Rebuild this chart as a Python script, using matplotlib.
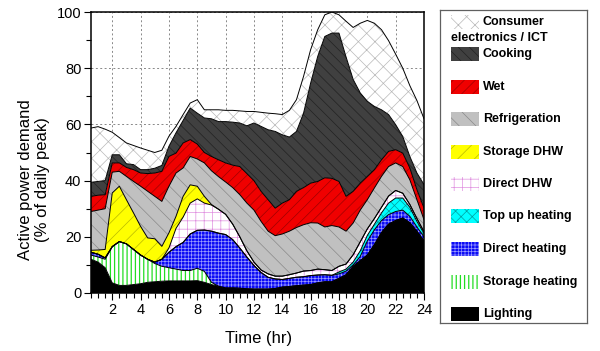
import numpy as np
import matplotlib
matplotlib.use('Agg')
import matplotlib.pyplot as plt
from matplotlib.patches import Rectangle

plt.rcParams['font.family'] = ['Liberation Sans', 'DejaVu Sans']
plt.rcParams['hatch.linewidth'] = 0.5

hours = np.arange(0.5, 24.01, 0.5)

lighting = [12, 11, 9, 3.6, 2.7, 2.7, 3.0, 3.3, 3.8, 4.0, 4.2, 4.3, 4.3, 4.3, 4.3, 4.4,
            3.8, 3.0, 2.4, 1.8, 1.8, 1.7, 1.5, 1.4, 1.4, 1.4, 1.6, 2.1, 2.3, 2.6, 2.8, 3.0,
            3.6, 4.0, 4.0, 5.2, 6.5, 9.5, 11.5, 13.5, 17.2, 21.5, 24.5, 25.8, 26.7, 25, 22, 18.5]
storage_heating = [1.5, 1.8, 3, 12.9, 15.6, 14.8, 12.5, 10.2, 8.2, 6.5, 5.3, 4.7, 4.2, 3.7, 3.7, 4.4,
                   3.9, 0.8, 0, 0, 0, 0, 0, 0, 0, 0, 0, 0, 0, 0, 0, 0,
                   0, 0, 0, 0, 0, 0, 0, 0, 0, 0, 0, 0, 0, 0, 0, 0]
direct_heating = [1.0, 1.0, 0.5, 0, 0, 0, 0, 0, 0, 0.5, 2.5, 5.5, 8, 10, 13, 13.5,
                  14.7, 18.2, 18.9, 19, 17.2, 14.3, 11.3, 8.4, 5.9, 4.2, 3.4, 2.7, 2.9, 3.0, 3.0, 3.2,
                  2.8, 2.5, 2.3, 1.6, 1.3, 0.5, 1.5, 5, 5.3, 4.3, 3.4, 3.2, 2.8, 2.3, 1.5, 1.5]
top_up_heating = [0, 0, 0, 0, 0, 0, 0, 0, 0, 0, 0, 0, 0, 0, 0, 0,
                  0, 0, 0, 0, 0, 0, 0, 0, 0, 0, 0, 0, 0, 0, 0, 0,
                  0, 0, 0, 0.7, 0.7, 1, 2, 2, 2, 2.7, 4.1, 4.8, 4.3, 3.2, 2, 1.2]
direct_dhw = [0, 0, 0, 0, 0, 0, 0, 0, 0, 0, 0, 1.5, 6.5, 9, 11, 11.2,
              9.6, 9.3, 8.5, 7.2, 5.5, 4, 2.2, 1.2, 0.9, 1.2, 1, 1.2, 1.3, 1.5, 2, 1.8,
              2.1, 1.8, 1.7, 2, 1.8, 2.6, 3.2, 2.3, 2, 2, 2.5, 2.7, 1.7, 1, 1, 0.6]
storage_dhw = [0.7, 1.5, 3, 19.1, 19.7, 15.7, 13, 10.2, 7.6, 8.3, 4.6, 5.4, 4.3, 7.4, 6.5, 4.5,
               2.4, 0.2, 0, 0, 0, 0, 0, 0, 0, 0, 0, 0, 0, 0, 0, 0,
               0, 0, 0, 0, 0, 0, 0, 0, 0, 0, 0, 0, 0, 0, 0, 0]
refrigeration = [13.8, 14.2, 14.5, 7.4, 5.3, 8.3, 11.2, 14.3, 16.6, 15.1, 16, 16.6, 15.4, 10.1, 10.1, 9.7,
                 11.9, 12, 11.6, 11.5, 13, 15, 17, 18.5, 17.3, 15.2, 14.4, 15, 15.5, 16.2, 16.5, 17,
                 16.4, 15.2, 16, 14, 11.7, 11.3, 11.3, 10.4, 10.9, 11, 10.5, 9.8, 9.5, 8.8, 6.7, 4.3]
wet = [5.4, 5.3, 5, 3.3, 3, 3.2, 4.2, 4.7, 6.3, 8.3, 10.7, 10.6, 7.1, 8.9, 6, 5.3,
       3.7, 5.1, 6, 6.8, 8, 10, 10.5, 10.5, 10.7, 11.2, 9.8, 11, 11.2, 12.9, 13.2, 14.1,
       14.8, 17.5, 16.8, 16.2, 12.4, 11.3, 9.6, 8.3, 6.5, 5.9, 5.4, 4.7, 4.8, 4.2, 3.6, 4.1]
cooking = [5, 4.9, 5, 2.9, 2.9, 1.3, 1.8, 1.2, 1.4, 1.7, 2.1, 3.6, 7.2, 8, 11.2, 11,
           12.3, 13.4, 13.6, 14.7, 15.3, 15.5, 17, 20.5, 23.1, 24.9, 27.3, 24.3, 22.3, 21.3, 26.5, 35.6,
           44.5, 50.3, 51.7, 52.8, 49.6, 39.8, 32.1, 26.7, 22.5, 17.8, 13.1, 8.9, 5.9, 4.1, 5.9, 8.4]
consumer_electronics = [19.3, 19.5, 18.3, 8, 6.1, 7.4, 6.8, 7.7, 6.9, 5.6, 5.4, 3.6, 2.3, 2.1, 1.8, 4.8,
                        2.9, 3.2, 4.2, 4, 4.2, 4.3, 5.1, 4.1, 5, 5.9, 6.3, 7.2, 9.5, 11.3, 13.1, 11.9,
                        9.5, 7.7, 7.5, 6.5, 12.7, 18.5, 24.8, 28.8, 29.6, 28.5, 26.3, 25.1, 24.3, 25.2, 25.8, 23.4]

series = [lighting, storage_heating, direct_heating, top_up_heating, direct_dhw,
          storage_dhw, refrigeration, wet, cooking, consumer_electronics]
labels = ['Lighting', 'Storage heating', 'Direct heating', 'Top up heating', 'Direct DHW',
          'Storage DHW', 'Refrigeration', 'Wet', 'Cooking', 'Consumer\nelectronics / ICT']
faces = ['#000000', '#ffffff', '#0a0af5', '#00ffff', '#ffffff',
         '#ffff00', '#c0c0c0', '#f00000', '#404040', '#ffffff']
hcols = ['#000000', '#22dd22', '#9a9aff', '#00a0a0', '#e090e0',
         '#b8b800', '#8a8a8a', '#a00000', '#222222', '#b8b8b8']
hatches = [None, '||||', '+++++', 'xxx', '++', '//', '\\\\', '///', '\\\\\\', 'xx']
hlw = [0.5, 0.9, 0.5, 0.5, 0.5, 0.5, 0.5, 0.5, 0.5, 0.5]


def set_hlw(artist, w):
    try:
        artist.set_hatch_linewidth(w)
    except AttributeError:
        pass


fig = plt.figure(figsize=(6, 3.51), dpi=100)
ax = fig.add_axes([91/600, 1-293/351, 333/600, 281/351])

cum = np.zeros(len(hours))
for vals, fc, hc, h, w in zip(series, faces, hcols, hatches, hlw):
    top = cum + np.array(vals, dtype=float)
    ax.fill_between(hours, cum, top, facecolor=fc, edgecolor='none', linewidth=0, zorder=2)
    if h:
        with plt.rc_context({'hatch.linewidth': w}):
            coll = ax.fill_between(hours, cum, top, facecolor='none', edgecolor=hc, hatch=h,
                                   linewidth=0, zorder=2.1)
        set_hlw(coll, w)
    ax.plot(hours, top, color='black', lw=0.7, zorder=3)
    cum = top

ax.set_xlim(0.5, 24)
ax.set_ylim(0, 100)
ax.set_xticks(np.arange(2, 25, 2))
ax.set_xticks(np.arange(0.5, 24.01, 0.5), minor=True)
ax.set_yticks(np.arange(0, 101, 20))
ax.set_yticks(np.arange(10, 100, 20), minor=True)
ax.tick_params(which='major', direction='out', length=5, width=0.8, labelsize=10.5, pad=2)
ax.tick_params(which='minor', direction='out', length=3.5, width=0.8)
ax.set_axisbelow(True)
ax.grid(True, which='major', color='#888888', linestyle=(0, (2, 2.5)), linewidth=0.7)
for s in ax.spines.values():
    s.set_linewidth(1.1)
    s.set_zorder(5)

fig.text(26/600, 1-180/351, 'Active power demand', rotation=90, ha='center', va='center', fontsize=12)
fig.text(43/600, 1-180/351, '(% of daily peak)', rotation=90, ha='center', va='center', fontsize=12)
fig.text(259/600, 1-338/351, 'Time (hr)', ha='center', va='center', fontsize=12)

# legend
lg = fig.add_axes([440/600, 1-323/351, 147/600, 313/351])
lg.set_xlim(0, 147)
lg.set_ylim(313, 0)
lg.set_xticks([])
lg.set_yticks([])
for s in lg.spines.values():
    s.set_linewidth(0.9)
    s.set_edgecolor('#606060')
centers = [304, 272, 239, 206, 174, 142, 109, 77, 44, 12]
for i, (fc, hc, h, lab, w) in enumerate(zip(faces, hcols, hatches, labels, hlw)):
    yc = centers[i]
    lg.add_patch(Rectangle((10.7, yc - 7), 28.3, 14, facecolor=fc, edgecolor='none', lw=0))
    if h:
        with plt.rc_context({'hatch.linewidth': w}):
            p = Rectangle((10.7, yc - 7), 28.3, 14, facecolor='none', edgecolor=hc, hatch=h, lw=0)
            lg.add_patch(p)
        set_hlw(p, w)
    if '\n' in lab:
        first, second = lab.split('\n')
        lg.text(43, yc, first, ha='left', va='center', fontsize=9, fontweight='bold')
        lg.text(10.7, yc + 16, second, ha='left', va='center', fontsize=9, fontweight='bold')
    else:
        lg.text(43, yc, lab, ha='left', va='center', fontsize=9, fontweight='bold')

fig.savefig('out.png', dpi=100)
